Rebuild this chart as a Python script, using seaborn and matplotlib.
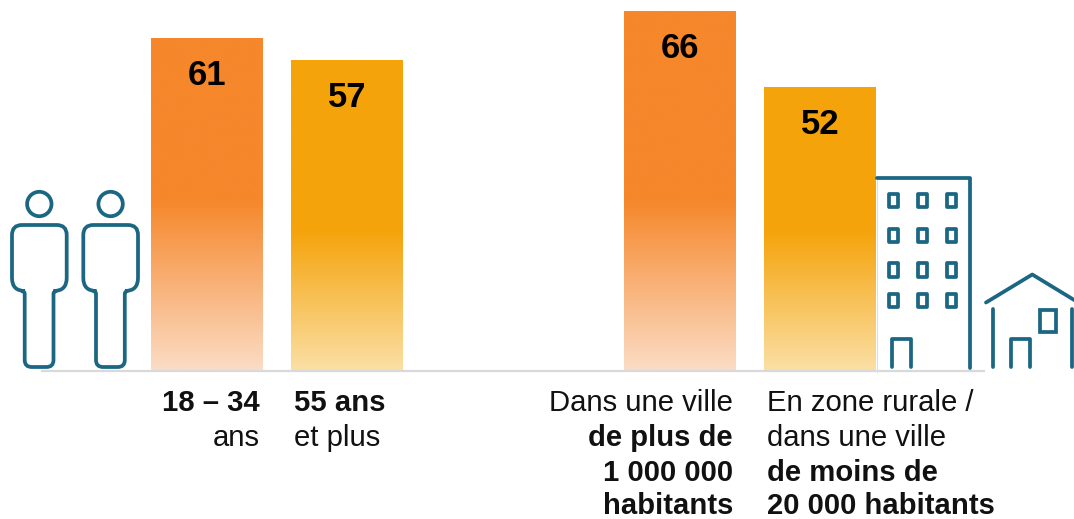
import numpy as np
import pandas as pd
import matplotlib.pyplot as plt
import seaborn as sns
from matplotlib.colors import LinearSegmentedColormap
from matplotlib.path import Path
from matplotlib.patches import PathPatch, Circle, Rectangle

age_groups = ['18 – 34 ans', '55 ans et plus']
age_values = [61, 57]
town_groups = ['Dans une ville de plus de 1 000 000 habitants',
               'En zone rurale / dans une ville de moins de 20 000 habitants']
town_values = [66, 52]

ORANGE = '#F6872B'
ORANGE_PALE = '#FBDCC4'
YELLOW = '#F5A30A'
YELLOW_PALE = '#FBDFA4'
ICON = '#1B6783'
W, H = 1074, 519
BASE = 370
PX_PER_UNIT = 5.435

sns.set_theme(style='white')
plt.rcParams['font.family'] = ['Liberation Sans', 'DejaVu Sans']

fig = plt.figure(figsize=(W / 100, H / 100), dpi=100)


def axes_px(x0, x1):
    # bars axes, placed in pixels, zero line on the baseline
    return fig.add_axes([x0 / W, (H - BASE) / H, (x1 - x0) / W, BASE / H])


def gradient_bar(ax, patch, top_col, pale_col, solid_px):
    # solid down to solid_px (figure px from top), fading to pale at the base
    x = patch.get_x()
    w = patch.get_width()
    h = patch.get_height()
    ys = np.linspace(h, 0, 200)
    px = BASE - ys * PX_PER_UNIT
    t = np.clip((px - solid_px) / (BASE - solid_px), 0, 1)[:, None]
    cmap = LinearSegmentedColormap.from_list('g', [top_col, pale_col])
    im = ax.imshow(t, extent=[x, x + w, 0, h], cmap=cmap, vmin=0, vmax=1,
                   aspect='auto', zorder=2, interpolation='bilinear')
    patch.set_visible(False)
    return im


def draw_group(x0, names, values):
    ax = axes_px(x0, x0 + 280)
    df = pd.DataFrame({'group': names, 'value': values})
    sns.barplot(data=df, x='group', y='value', order=names, width=0.8,
                color=ORANGE, ax=ax)
    patches = list(ax.patches)
    gradient_bar(ax, patches[0], ORANGE, ORANGE_PALE, 200)
    gradient_bar(ax, patches[1], YELLOW, YELLOW_PALE, 230)
    ax.set_xlim(-0.5, 1.5)
    ax.set_ylim(0, BASE / PX_PER_UNIT)
    ax.axis('off')
    for i, v in enumerate(values):
        ax.text(i, v - 37.5 / PX_PER_UNIT, str(v), ha='center', va='center',
                fontsize=25, fontweight='bold', color='black', zorder=4)
    return ax


draw_group(137, age_groups, age_values)
draw_group(610, town_groups, town_values)

# overlay in pixel coordinates for baseline, icons and labels
ov = fig.add_axes([0, 0, 1, 1], zorder=5)
ov.set_xlim(0, W)
ov.set_ylim(H, 0)
ov.axis('off')
ov.patch.set_alpha(0)

ov.plot([41, 985], [370.5, 370.5], color='#D9D9D9', lw=1.6, solid_capstyle='butt', zorder=1)
ov.plot([876.7, 876.7], [178, 372], color='#D5E3E9', lw=0.8, zorder=1)

lw = 2.7


def rounded(points, radius):
    # closed outline through points, with rounded corners
    verts, codes = [], []
    n = len(points)
    for i in range(n):
        p = np.array(points[i], float)
        a = np.array(points[i - 1], float)
        b = np.array(points[(i + 1) % n], float)
        r = radius[i] if isinstance(radius, list) else radius
        p1 = p + (a - p) / np.linalg.norm(a - p) * r
        p2 = p + (b - p) / np.linalg.norm(b - p) * r
        verts.append(p1)
        codes.append(Path.MOVETO if i == 0 else Path.LINETO)
        verts += [p, p2]
        codes += [Path.CURVE3, Path.CURVE3]
    verts.append(verts[0])
    codes.append(Path.CLOSEPOLY)
    return Path(verts, codes)


def person(dx):
    ov.add_patch(Circle((39.3 + dx, 204), 12.2, fill=False, ec=ICON, lw=lw))
    pts = [(12 + dx, 225), (66.7 + dx, 225), (66.7 + dx, 291), (53.5 + dx, 291),
           (53.5 + dx, 367), (24.7 + dx, 367), (24.7 + dx, 291), (12 + dx, 291)]
    rad = [10, 10, 13, 3, 7, 7, 3, 13]
    ov.add_patch(PathPatch(rounded(pts, rad), fill=False, ec=ICON, lw=lw))


person(0)
person(71.3)


def stroke(xs, ys):
    ov.plot(xs, ys, color=ICON, lw=lw, solid_capstyle='round', solid_joinstyle='round')


# building
stroke([877, 970.3, 970.3], [178, 178, 368])
for wy in [200.7, 235.3, 269.7, 300.3]:
    for wx in [893.3, 922.3, 951.3]:
        ov.add_patch(Rectangle((wx - 4.8, wy - 6.8), 9.6, 13.6, fill=False, ec=ICON,
                               lw=lw, joinstyle='round'))
stroke([892, 892, 911, 911], [367, 338.5, 338.5, 367])

# house
stroke([986, 1032.3, 1075], [302.5, 274.5, 300.5])
stroke([992.7, 992.7], [309, 367])
stroke([1072.3, 1072.3], [309, 367])
stroke([1011, 1011, 1030, 1030], [367, 338.5, 338.5, 367])
ov.add_patch(Rectangle((1039.5, 309.5), 16.5, 22, fill=False, ec=ICON, lw=lw, joinstyle='miter'))

LABEL_SIZE = 21.05
rows = [403, 437.5, 473, 506]


def label(x, row, text, ha, bold=False):
    ov.text(x, rows[row], text, ha=ha, va='center', fontsize=LABEL_SIZE,
            fontweight='bold' if bold else 'normal', color='#111111')


label(260, 0, '18 – 34', 'right', True)
label(260, 1, 'ans', 'right')
label(294, 0, '55 ans', 'left', True)
label(294, 1, 'et plus', 'left')
label(733, 0, 'Dans une ville', 'right')
label(733, 1, 'de plus de', 'right', True)
label(733, 2, '1 000 000', 'right', True)
label(733, 3, 'habitants', 'right', True)
label(767, 0, 'En zone rurale /', 'left')
label(767, 1, 'dans une ville', 'left')
label(767, 2, 'de moins de', 'left', True)
label(767, 3, '20 000 habitants', 'left', True)

fig.savefig('out.png', dpi=100)
